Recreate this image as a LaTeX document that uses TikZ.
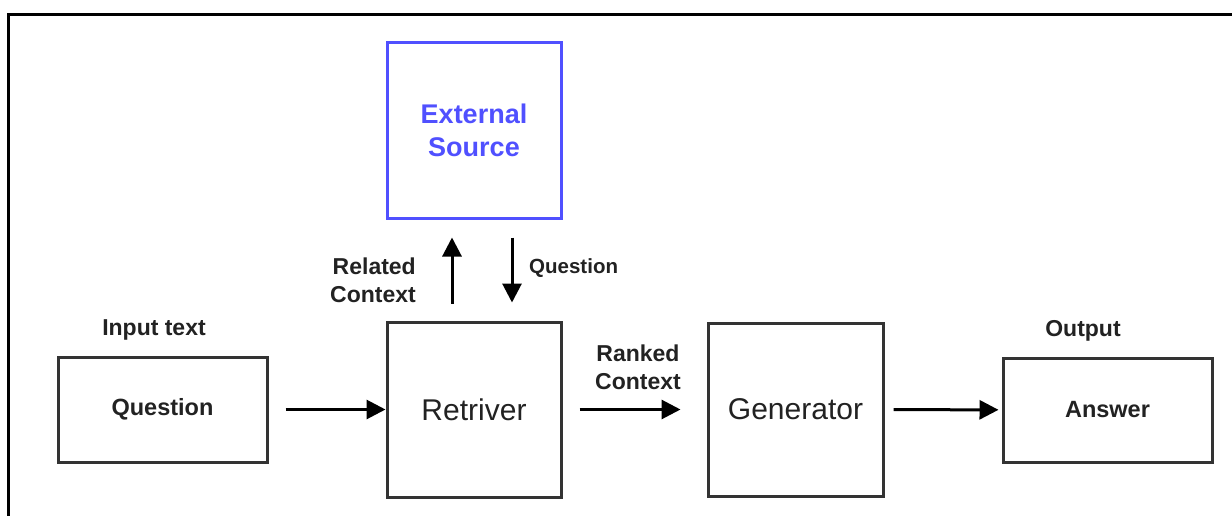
\documentclass[tikz,border=0pt]{standalone}
\usepackage{fontspec}
\setmainfont{Liberation Sans}
\usetikzlibrary{arrows.meta}
\definecolor{srcblue}{HTML}{5050FF}
\definecolor{boxline}{HTML}{333333}
\definecolor{txt}{HTML}{222222}
\tikzset{
  box/.style={draw=boxline, line width=3pt, fill=white, text=txt, align=center},
  srcbox/.style={draw=srcblue, line width=3pt, text=srcblue, align=center,
    font=\bfseries\fontsize{27}{33}\selectfont},
  bigtxt/.style={font=\fontsize{30}{35}\selectfont},
  smalltxt/.style={font=\bfseries\fontsize{23.5}{28}\selectfont},
  lbl/.style={text=txt, align=center, font=\bfseries\fontsize{23}{28}\selectfont, inner sep=0pt},
  arr/.style={draw=black, line width=3pt, -{Triangle[length=19pt,width=19pt]}}
}
\begin{document}
\begin{tikzpicture}[x=1pt,y=-1pt]
  \useasboundingbox (0,0) rectangle (1232,516);
  % frame (top and left edges)
  \draw[line width=2.5pt] (8.5,516) -- (8.5,14.5) -- (1232,14.5);

  % blocks
  \node[srcbox, minimum width=174pt, minimum height=175pt] (e) at (474,130.5) {External\\Source};
  \node[box, smalltxt, minimum width=209pt, minimum height=105pt] (q) at (162.5,409.5) {Question};
  \node[box, bigtxt, minimum width=174pt, minimum height=175pt] (r) at (474,409.5) {Retriver};
  \node[box, bigtxt, minimum width=175pt, minimum height=173pt] (g) at (795.5,409.5) {Generator};
  \node[box, smalltxt, minimum width=209pt, minimum height=104pt] (a) at (1107.5,410) {Answer};

  % labels
  \node[lbl] (lin) at (154,330) {Input text};
  \node[lbl] (lout) at (1083,331) {Output};
  \node[lbl, align=right, anchor=east] (lrel) at (416,280) {Related\\Context};
  \node[lbl, anchor=west, font=\bfseries\fontsize{20.5}{24}\selectfont] (lq) at (529,268) {Question};
  \node[lbl] (lrank) at (638,367) {Ranked\\Context};

  % connectors
  \draw[arr, shorten <=17pt] (q) -- (r);
  \draw[arr, shorten <=17pt, shorten >=26pt] (r) -- (g);
  \draw[arr, shorten <=9pt, shorten >=3pt] (g) -- (a);
  \draw[arr, shorten <=17pt, shorten >=18pt] ([xshift=-22pt]r.north) -- ([xshift=-22pt]e.south);
  \draw[arr, shorten <=18pt, shorten >=18pt] ([xshift=38pt]e.south) -- ([xshift=38pt]r.north);
\end{tikzpicture}
\end{document}
